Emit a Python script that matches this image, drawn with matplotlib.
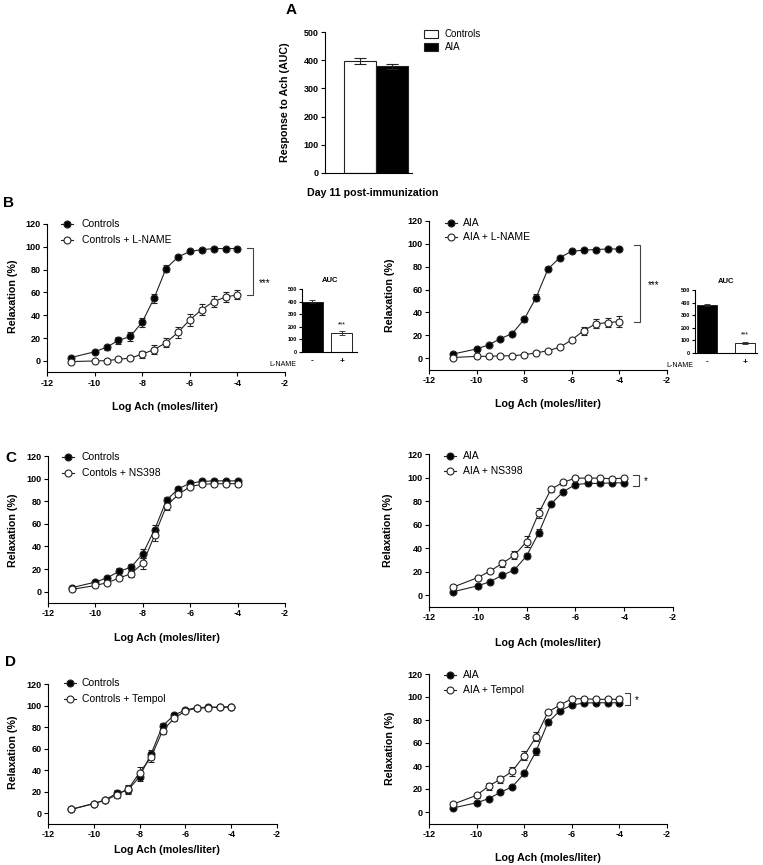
import matplotlib
matplotlib.use("Agg")
import matplotlib.pyplot as plt
from matplotlib.lines import Line2D
import numpy as np

plt.rcParams['font.family'] = ['Liberation Sans', 'DejaVu Sans']
plt.rcParams['axes.unicode_minus'] = False

W, H = 763, 865

# ---------------- data ----------------
log_ach = [-11, -10, -9.5, -9, -8.5, -8, -7.5, -7, -6.5, -6, -5.5, -5, -4.5, -4]

# Panel A
a_groups = ["Controls", "AIA"]
a_auc = [397, 378]
a_err = [12, 10]

# Panel B
b_ctrl = [3, 8, 12, 18, 21.5, 34, 55, 81, 91, 96, 97.5, 98.5, 98.5, 98.5]
b_ctrl_err = [1, 1, 2, 3, 4, 4, 4, 3, 2, 1.5, 1, 1, 1, 1]
b_ctrl_lname = [-0.5, 0, 0.3, 1.5, 2.5, 6, 10, 16, 25, 36, 45, 52, 56, 58]
b_ctrl_lname_err = [0.5, 0.5, 0.5, 1, 1.5, 3, 4, 4, 5, 5, 5, 5, 4, 4]
b_aia = [3.5, 8, 11.5, 17, 21.5, 34, 53, 78, 88, 93.5, 94.5, 95, 95.5, 95.5]
b_aia_err = [1, 1, 1, 1, 1, 2, 3, 2, 1.5, 1, 1, 1, 1, 1]
b_aia_lname = [0.5, 1.5, 1.5, 2, 2, 3, 4.5, 6.5, 9.5, 16, 24, 30, 31, 32]
b_aia_lname_err = [0.5, 0.5, 0.5, 0.5, 0.5, 1, 1, 1, 1, 2, 3.5, 4, 4, 4.5]
b_auc_labels = ["-", "+"]
b_auc_ctrl = [397, 150]
b_auc_ctrl_err = [12, 15]
b_auc_aia = [378, 80]
b_auc_aia_err = [8, 8]

# Panel C
c_ctrl = [3.5, 8.5, 12.3, 18, 21.6, 33.6, 55, 81, 91, 96, 97.5, 98, 98, 98]
c_ctrl_err = [1, 1, 2, 3, 3, 4, 4, 3, 2, 1, 1, 1, 1, 1]
c_ctrl_ns = [2, 5.5, 8, 12, 16, 25, 50, 76, 86, 93, 95, 95.5, 95.5, 95.5]
c_ctrl_ns_err = [1, 1, 1, 2, 3, 5, 5, 4, 2, 1, 1, 1, 1, 1]
c_aia = [3, 8, 11.5, 17, 21.5, 33.5, 53, 77.5, 88, 94, 95, 95, 95.5, 95.5]
c_aia_err = [1, 1, 1, 1, 1, 2, 3, 2, 1.5, 1, 1, 1, 1, 1]
c_aia_ns = [7, 15, 20.5, 27, 34, 45.5, 70, 90, 96, 99.5, 99.5, 99.5, 99, 99.5]
c_aia_ns_err = [1, 1.5, 2, 3, 3.5, 4.5, 4, 2, 2, 1, 1, 1, 1, 1]

# Panel D
d_ctrl = [3.5, 9, 12.4, 18.5, 21.6, 34, 55, 81, 91, 96, 98, 98.5, 98.5, 98.5]
d_ctrl_err = [1, 1, 2, 3, 4, 4, 4, 3, 2, 1, 1, 1, 1, 1]
d_ctrl_temp = [3.5, 9, 12, 17, 22.5, 37.7, 52, 76.5, 88, 95, 97.5, 98, 98.5, 99]
d_ctrl_temp_err = [1, 1, 2, 3, 4, 5, 4, 3, 2, 1, 1, 1, 1, 1]
d_aia = [3.5, 8, 11.6, 17, 22, 33.5, 53, 78, 88, 93, 94.7, 95, 95, 95]
d_aia_err = [1, 1, 1, 1, 1, 2, 3, 2, 1.5, 1, 1, 1, 1, 1]
d_aia_temp = [6.7, 14.5, 22.4, 28.5, 35.5, 49, 65.5, 87, 93, 98.5, 98.5, 98, 98, 98]
d_aia_temp_err = [1, 2, 3, 3, 4, 4, 4, 2, 1, 1, 1, 1, 1, 1]

# ---------------- helpers ----------------
fig = plt.figure(figsize=(W / 100, H / 100), dpi=100)


def px_axes(left, top, right, bottom):
    return fig.add_axes([left / W, 1 - bottom / H, (right - left) / W, (bottom - top) / H])


def ftext(x, y, s, **kw):
    fig.text(x / W, 1 - y / H, s, **kw)


def fline(xs, ys, **kw):
    fig.add_artist(Line2D([x / W for x in xs], [1 - y / H for y in ys], **kw))


TICK_FS = 6.5
LAB_FS = 7.7
LEG_FS = 7.5
EDGE = '#222222'


def style_axes(ax, fs=TICK_FS, ticklen=3):
    for s in ['top', 'right']:
        ax.spines[s].set_visible(False)
    for s in ['left', 'bottom']:
        ax.spines[s].set_linewidth(0.8)
    ax.tick_params(length=ticklen, width=0.8, labelsize=fs, pad=1.5)
    for lab in ax.get_xticklabels() + ax.get_yticklabels():
        lab.set_fontweight('bold')


def curve_axes(box, series):
    ax = px_axes(*box)
    for y, e, filled in series:
        ax.errorbar(log_ach, y, yerr=e, color=EDGE, lw=0.8, elinewidth=0.7, capsize=2,
                    capthick=0.7, marker='o', ms=5,
                    mfc=('black' if filled else 'white'), mec=EDGE, mew=0.8, zorder=3)
    ax.set_xlim(-12, -2)
    ax.set_ylim(-10, 120)
    ax.set_xticks([-12, -10, -8, -6, -4, -2])
    ax.set_yticks([0, 20, 40, 60, 80, 100, 120])
    style_axes(ax)
    return ax


def legend(x_mark, x_text, ys, labels):
    for y, lab, filled in zip(ys, labels, [True, False]):
        fline([x_mark - 6, x_mark + 6], [y, y], color=EDGE, lw=0.8)
        fig.add_artist(Line2D([x_mark / W], [1 - y / H], marker='o', ms=5,
                              mfc=('black' if filled else 'white'), mec=EDGE, mew=0.8))
        ftext(x_text, y, lab, fontsize=LEG_FS, va='center', ha='left')


def bracket(x, y1, y2, x_tick, star, sx, sy, fs=7):
    fline([x_tick, x, x, x_tick], [y1, y1, y2, y2], color='#444444', lw=0.8)
    ftext(sx, sy, star, fontsize=fs, va='center', ha='left')


def auc_inset(box, vals, errs, xlim, width, star_fs=5):
    ax = px_axes(*box)
    ax.bar([0, 1], vals, width=width, color=['black', 'white'], edgecolor=EDGE, lw=0.7)
    ax.errorbar([0, 1], vals, yerr=errs, fmt='none', ecolor=EDGE, elinewidth=0.6,
                capsize=2, capthick=0.6)
    ax.set_xlim(*xlim)
    ax.set_ylim(0, 500)
    ax.set_yticks([0, 100, 200, 300, 400, 500])
    ax.set_xticks([0, 1])
    ax.set_xticklabels(b_auc_labels)
    style_axes(ax, fs=4, ticklen=2)
    ax.tick_params(axis='x', length=0, pad=4, labelsize=6)
    ax.set_title("AUC", fontsize=5.5, fontweight='bold', pad=5)
    ax.text(1, vals[1] + errs[1] + 25, "***", ha='center', va='bottom', fontsize=star_fs)
    return ax


# ---------------- Panel A ----------------
axA = px_axes(325, 32, 412, 173)
axA.bar([0, 1], a_auc, width=1.0, color=['white', 'black'], edgecolor=EDGE, lw=0.8)
axA.errorbar([0, 1], a_auc, yerr=a_err, fmt='none', ecolor=EDGE, elinewidth=0.8,
             capsize=4, capthick=0.8)
axA.set_xlim(-1.08, 1.64)
axA.set_ylim(0, 500)
axA.set_yticks([0, 100, 200, 300, 400, 500])
axA.set_xticks([])
style_axes(axA)
ftext(285, 102, "Response to Ach (AUC)", rotation=90, fontsize=LAB_FS, fontweight='bold',
      ha='center', va='center')
ftext(373, 193, "Day 11 post-immunization", fontsize=LAB_FS, fontweight='bold',
      ha='center', va='center')
# legend A
for y, lab, col in zip([34, 47], a_groups, ['white', 'black']):
    fig.add_artist(plt.Rectangle(((424) / W, 1 - (y + 4) / H), 14 / W, 8 / H,
                                 facecolor=col, edgecolor=EDGE, lw=0.8))
    ftext(445, y, lab, fontsize=LEG_FS - 0.5, va='center', ha='left')

# ---------------- panel labels ----------------
for lab, x, y in [("A", 291, 10), ("B", 8, 203), ("C", 11, 458), ("D", 11, 662)]:
    ftext(x, y, lab, fontsize=11, fontweight='bold', ha='center', va='center')

# ---------------- Panel B ----------------
curve_axes((47, 224, 285, 372.4), [(b_ctrl, b_ctrl_err, True),
                                    (b_ctrl_lname, b_ctrl_lname_err, False)])
legend(67, 82, [224, 240], ["Controls", "Controls + L-NAME"])
bracket(253, 248, 295, 247, "***", 259, 283)
auc_inset((302, 289, 357, 352), b_auc_ctrl, b_auc_ctrl_err, (-0.36, 1.53), 0.7)
ftext(283, 364, "L-NAME", fontsize=5, ha='center', va='center')

curve_axes((429, 221, 667, 369.5), [(b_aia, b_aia_err, True),
                                     (b_aia_lname, b_aia_lname_err, False)])
legend(451, 463, [223, 237], ["AIA", "AIA + L-NAME"])
bracket(640, 245, 322, 634, "***", 648, 285)
auc_inset((695, 290, 757, 353), b_auc_aia, b_auc_aia_err, (-0.32, 1.32), 0.53)
ftext(680, 365, "L-NAME", fontsize=5, ha='center', va='center')

# ---------------- Panel C ----------------
curve_axes((48, 456, 285, 603), [(c_ctrl, c_ctrl_err, True),
                                  (c_ctrl_ns, c_ctrl_ns_err, False)])
legend(68, 82, [457, 473], ["Controls", "Contols + NS398"])

curve_axes((429, 454, 673, 607), [(c_aia, c_aia_err, True),
                                   (c_aia_ns, c_aia_ns_err, False)])
legend(450, 463, [456, 471], ["AIA", "AIA + NS398"])
bracket(639, 475, 486, 633, "*", 644, 481)

# ---------------- Panel D ----------------
curve_axes((48, 684, 277, 824), [(d_ctrl, d_ctrl_err, True),
                                  (d_ctrl_temp, d_ctrl_temp_err, False)])
legend(70, 82, [683, 699], ["Controls", "Controls + Tempol"])

curve_axes((429, 674, 667, 823.5), [(d_aia, d_aia_err, True),
                                     (d_aia_temp, d_aia_temp_err, False)])
legend(450, 463, [675, 690], ["AIA", "AIA + Tempol"])
bracket(630, 693, 705, 625, "*", 635, 700)

# ---------------- axis labels ----------------
for x, y in [(13, 296), (390, 295), (13, 530), (388, 530), (13, 752), (390, 748)]:
    ftext(x, y, "Relaxation (%)", rotation=90, fontsize=LAB_FS, fontweight='bold',
          ha='center', va='center')
for x, y in [(165, 407), (548, 404), (167, 638), (548, 643), (167, 850), (548, 858)]:
    ftext(x, y, "Log Ach (moles/liter)", fontsize=LAB_FS, fontweight='bold',
          ha='center', va='center')

fig.savefig("out.png", dpi=100)
